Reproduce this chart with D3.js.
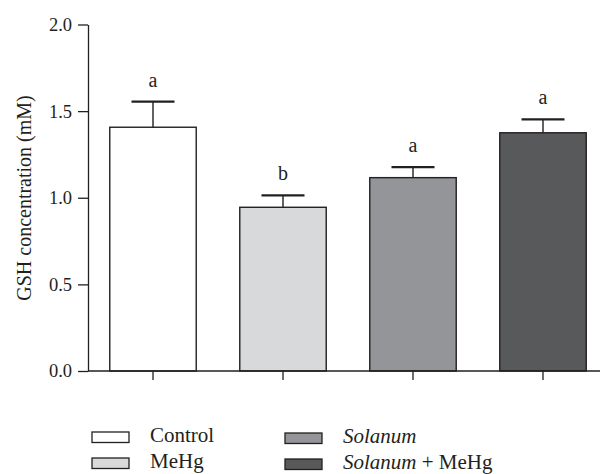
<!DOCTYPE html>
<html>
<head>
<meta charset="utf-8">
<script src="https://cdn.jsdelivr.net/npm/d3@7"></script>
<style>
  body { margin: 0; background: #fff; }
  svg { display: block; }
  text { font-family: "Liberation Serif", "DejaVu Serif", serif; fill: #231f20; }
</style>
</head>
<body>
<svg id="chart" width="605" height="474"></svg>
<script>
const categories = ["Control", "MeHg", "Solanum", "Solanum + MeHg"];
const means = [1.407, 0.945, 1.116, 1.375];
const errors = [0.148, 0.069, 0.061, 0.077];
const letters = ["a", "b", "a", "a"];
const colors = ["#ffffff", "#d8d9db", "#939598", "#58595b"];
const yTicks = [0.0, 0.5, 1.0, 1.5, 2.0];

const svg = d3.select("#chart");
const ink = "#231f20";

const x = d3.scaleBand().domain(categories).range([88, 608]).paddingInner(0.335).paddingOuter(0.1675);
const y = d3.scaleLinear().domain([0, 2]).range([371, 24.5]);

// Y axis
const yAxis = svg.append("g").attr("transform", "translate(88,0)")
  .call(d3.axisLeft(y).tickValues(yTicks).tickFormat(d3.format(".1f")).tickSize(10).tickSizeOuter(0).tickPadding(6));
yAxis.select(".domain").attr("stroke", ink).attr("stroke-width", 1.3);
yAxis.selectAll(".tick line").attr("stroke", ink).attr("stroke-width", 1.3);
yAxis.selectAll(".tick text").style("font-family", "Liberation Serif").style("font-size", "18.5px").attr("fill", ink);

// Bars
svg.append("g").selectAll("rect").data(categories).join("rect")
  .attr("x", d => x(d))
  .attr("y", (d, i) => y(means[i]))
  .attr("width", x.bandwidth())
  .attr("height", (d, i) => y(0) - y(means[i]))
  .attr("fill", (d, i) => colors[i])
  .attr("stroke", ink).attr("stroke-width", 1.4);

// Error bars
const eb = svg.append("g");
categories.forEach((c, i) => {
  const cx = x(c) + x.bandwidth() / 2;
  eb.append("line").attr("x1", cx).attr("x2", cx)
    .attr("y1", y(means[i])).attr("y2", y(means[i] + errors[i]))
    .attr("stroke", ink).attr("stroke-width", 1.4);
  eb.append("line").attr("x1", cx - 21.5).attr("x2", cx + 21.5)
    .attr("y1", y(means[i] + errors[i])).attr("y2", y(means[i] + errors[i]))
    .attr("stroke", ink).attr("stroke-width", 2.2);
  eb.append("text").attr("x", cx).attr("y", y(means[i] + errors[i]) - 15)
    .attr("text-anchor", "middle").style("font-size", "20px").text(letters[i]);
});

// X axis
const xAxis = svg.append("g").attr("transform", "translate(0,371)")
  .call(d3.axisBottom(x).tickSize(9).tickSizeOuter(0).tickFormat(""));
xAxis.select(".domain").remove();
xAxis.selectAll(".tick line").attr("stroke", ink).attr("stroke-width", 1.3);
svg.append("line").attr("x1", 88).attr("x2", 600).attr("y1", 371).attr("y2", 371)
  .attr("stroke", ink).attr("stroke-width", 1.3);

// Y label
svg.append("text")
  .attr("transform", "translate(31,198) rotate(-90)")
  .attr("text-anchor", "middle")
  .style("font-size", "20px")
  .text("GSH concentration (mM)");

// Legend
const legendPos = [
  {bx: 92, by: 432, tx: 150, ty: 442},
  {bx: 92, by: 458, tx: 150, ty: 468},
  {bx: 285, by: 433, tx: 343, ty: 443},
  {bx: 285, by: 459, tx: 343, ty: 469}
];
const lg = svg.append("g");
categories.forEach((c, i) => {
  const p = legendPos[i];
  lg.append("rect").attr("x", p.bx).attr("y", p.by).attr("width", 37).attr("height", 10.5)
    .attr("fill", colors[i]).attr("stroke", ink).attr("stroke-width", 1.3);
  const t = lg.append("text").attr("x", p.tx).attr("y", p.ty).style("font-size", "21px");
  if (c.startsWith("Solanum")) {
    t.append("tspan").style("font-style", "italic").text("Solanum");
    if (c.length > 7) t.append("tspan").text(c.slice(7));
  } else {
    t.text(c);
  }
});
</script>
</body>
</html>
